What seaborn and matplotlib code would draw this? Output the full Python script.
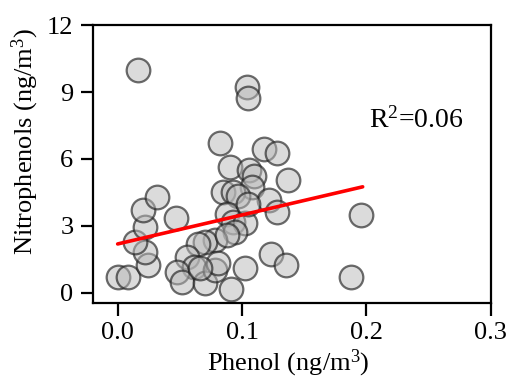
import numpy as np
import pandas as pd
import seaborn as sns
from matplotlib import pyplot as plt

# values
phenol = [0.016, 0.104, 0.105, 0.082, 0.118, 0.128, 0.090, 0.106, 0.110, 0.137,
          0.108, 0.085, 0.093, 0.097, 0.122, 0.128, 0.088, 0.093, 0.102, 0.094,
          0.078, 0.070, 0.065, 0.056, 0.061, 0.048, 0.052, 0.070, 0.078, 0.081,
          0.091, 0.102, 0.123, 0.135, 0.000, 0.008, 0.024, 0.022, 0.014, 0.022,
          0.020, 0.032, 0.047, 0.196, 0.188, 0.066, 0.088, 0.105]
nitro = [9.99, 9.21, 8.73, 6.72, 6.45, 6.27, 5.64, 5.51, 5.24, 5.06,
         4.75, 4.52, 4.52, 4.34, 4.16, 3.63, 3.54, 3.18, 3.13, 2.73,
         2.37, 2.28, 2.19, 1.61, 1.16, 0.94, 0.49, 0.45, 1.03, 1.34,
         0.18, 1.12, 1.75, 1.25, 0.72, 0.72, 1.25, 1.84, 2.28, 2.96,
         3.72, 4.30, 3.36, 3.49, 0.72, 1.12, 2.60, 4.00]

# fitted line as drawn in the reference
fit_x = [0.0, 0.197]
fit_intercept = 2.19
fit_slope = 13.0

df = pd.DataFrame({"Phenol": phenol, "Nitrophenols": nitro})

sns.set_style("ticks")
plt.rcParams['font.family'] = ['Liberation Serif', 'DejaVu Serif']
plt.rcParams['mathtext.fontset'] = 'custom'
plt.rcParams['mathtext.rm'] = 'Liberation Serif'
plt.rcParams['mathtext.it'] = 'Liberation Serif:italic'
plt.rcParams['text.color'] = 'black'
plt.rcParams['axes.labelcolor'] = 'black'

fig = plt.figure(figsize=(5.07, 3.8), dpi=100)
ax = fig.add_axes([0.183, 0.203, 0.785, 0.731])

sns.scatterplot(x="Phenol", y="Nitrophenols", data=df, s=290, ax=ax, zorder=2)
pts = ax.collections[0]
pts.set_facecolor((0.72, 0.72, 0.72, 0.5))
pts.set_edgecolor((0.12, 0.12, 0.12, 0.65))
pts.set_linewidth(1.6)

line_y = [fit_intercept + fit_slope * v for v in fit_x]
sns.lineplot(x=fit_x, y=line_y, color="red", linewidth=2.6, ax=ax, zorder=3)

ax.text(0.202, 7.4, r"R$\mathregular{^2}$=0.06", fontsize=20, va="baseline")

ax.set_xlim(-0.02, 0.3)
ax.set_ylim(-0.45, 12)
ax.set_xticks([0.0, 0.1, 0.2, 0.3])
ax.set_xticklabels(["0.0", "0.1", "0.2", "0.3"])
ax.set_yticks([0, 3, 6, 9, 12])
ax.tick_params(labelsize=19, length=9, width=1.6, direction="out", pad=5,
               colors="black")
for sp in ax.spines.values():
    sp.set_linewidth(1.6)
    sp.set_color("black")

ax.set_xlabel(r"Phenol (ng/m$\mathregular{^3}$)", fontsize=19)
ax.set_ylabel(r"Nitrophenols (ng/m$\mathregular{^3}$)", fontsize=19)
ax.xaxis.set_label_coords(0.49, -0.16)
ax.yaxis.set_label_coords(-0.13, 0.58)

plt.savefig("out.png", dpi=100)
